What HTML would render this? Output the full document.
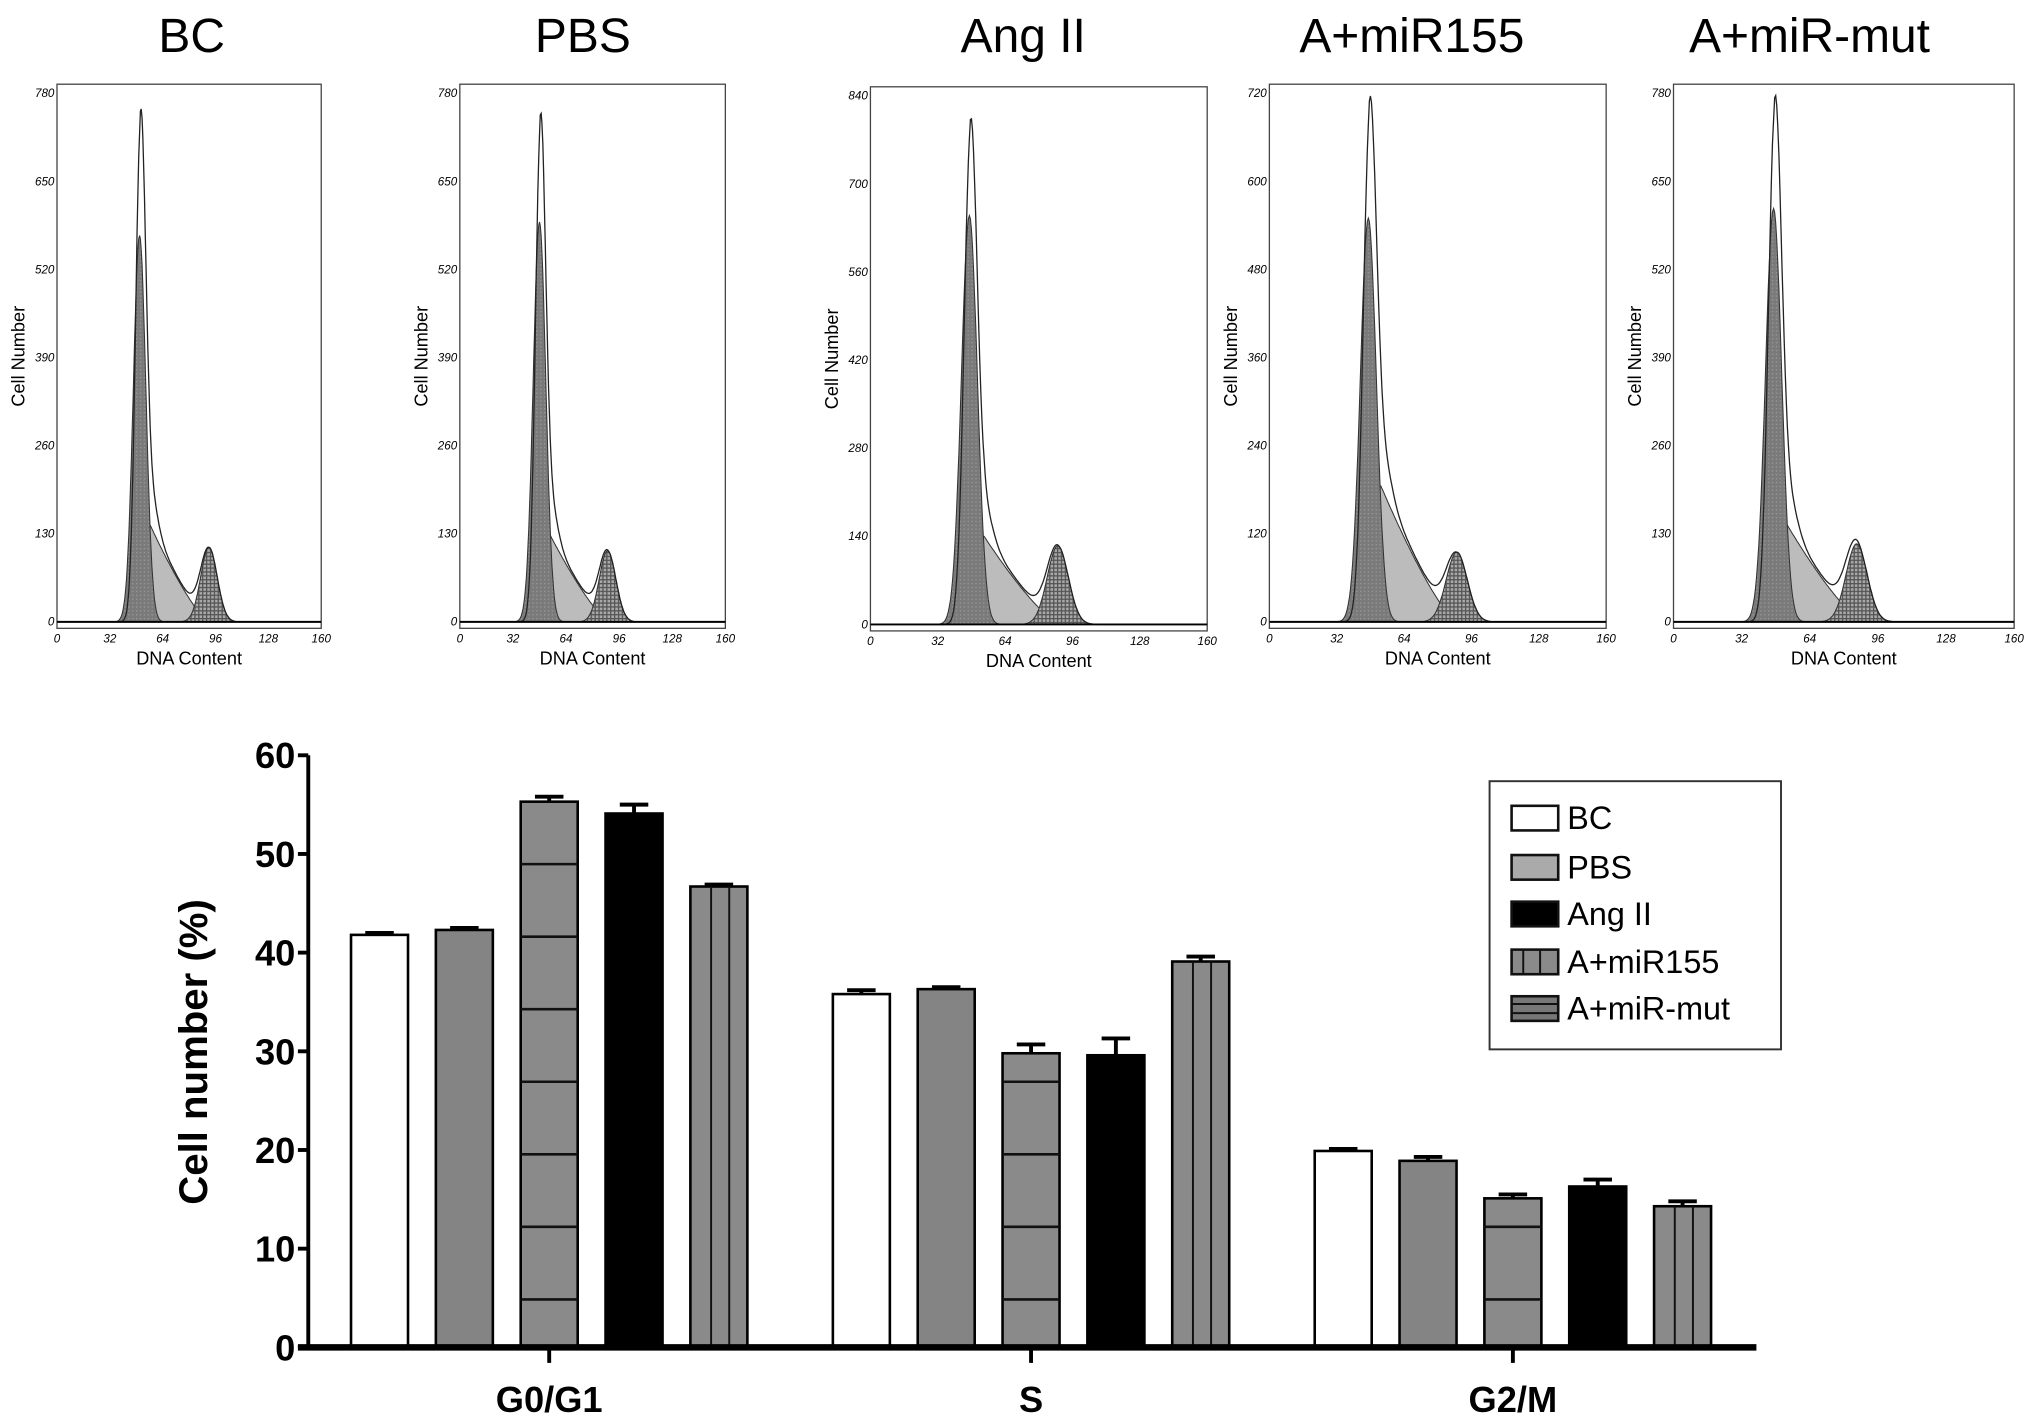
<!DOCTYPE html>
<html><head><meta charset="utf-8">
<style>
html,body{margin:0;padding:0;background:#fff;}
svg{display:block;}
text{font-family:"Liberation Sans",Arial,sans-serif;}
</style></head>
<body>
<svg id="fig" width="2031" height="1416" viewBox="0 0 1568 1093" preserveAspectRatio="none" xmlns="http://www.w3.org/2000/svg">
<defs>
<pattern id="dots" width="3" height="3" patternUnits="userSpaceOnUse"><rect width="3" height="3" fill="#7a7a7a"/><rect width="1" height="1" fill="#999"/></pattern>
<pattern id="cross" width="3" height="3" patternUnits="userSpaceOnUse"><rect width="3" height="3" fill="#aaa"/><rect width="3" height="1" fill="#555"/><rect width="1" height="3" fill="#555"/></pattern>
</defs>
<g id="hists"></g>
<g id="bars"></g>
</svg>
<script>
// ---- histogram data ----
const panelTitles = ["BC","PBS","Ang II","A+miR155","A+miR-mut"];
const panelYMax = [780,780,840,720,780];
const g1Center = [50,48,47,47,47];
const g1Height = [570,590,650,550,610];
const totalPeak = [750,745,800,705,770];
const sCenter = [56,54,54,53,53];
const sHeight = [145,130,140,185,145];
const g2Center = [92,89,89,89,86];
const g2Height = [110,105,125,95,115];
const xTicks = [0,32,64,96,128,160];

// ---- bar chart data ----
const categories = ["G0/G1","S","G2/M"];
const seriesNames = ["BC","PBS","Ang II","A+miR155","A+miR-mut"];
const valBC = [41.8,35.8,19.9];
const valPBS = [42.3,36.3,18.9];
const valAng = [54.1,29.6,16.3];
const valMiR155 = [46.7,39.1,14.3];
const valMiRmut = [55.3,29.8,15.1];
const errBC = [0.2,0.4,0.2];
const errPBS = [0.2,0.2,0.4];
const errAng = [0.9,1.7,0.7];
const errMiR155 = [0.2,0.5,0.5];
const errMiRmut = [0.5,0.9,0.4];
const yTicks = [0,10,20,30,40,50,60];

const NS="http://www.w3.org/2000/svg";
function el(tag,attrs,parent,txt){const e=document.createElementNS(NS,tag);for(const k in attrs)e.setAttribute(k,attrs[k]);if(txt!==undefined)e.textContent=txt;parent.appendChild(e);return e;}

// ---- histograms ----
const frames=[[44,65,248,485],[355,65,560,485],[672,67,932,487],[980,65,1240,485],[1292,65,1555,485]];
const titleX=[148,450,790,1090,1397];
const H=document.getElementById('hists');
function gauss(x,c,s){const z=(x-c)/s;return Math.exp(-z*z/2);}
for(let p=0;p<5;p++){
  const [x0,y0,x1,y1]=frames[p];
  const g=el('g',{},H);
  
  
  const t=el('text',{x:titleX[p],y:40,'font-size':37,'text-anchor':'middle'},g,panelTitles[p]);
  
  
  const yb=y1-5, yTopH=y0+7;
  const sx=v=>x0+(v/160)*(x1-x0);
  const sy=v=>yb-(v/panelYMax[p])*(yb-yTopH);
  const fG1=x=>g1Height[p]*gauss(x,g1Center[p],3.8);
  const fS=x=>{const c=sCenter[p];if(x<c)return sHeight[p]*gauss(x,c,4.5);return sHeight[p]*Math.pow(Math.max(0,1-(x-c)/36),1.3);};
  const fG2=x=>g2Height[p]*gauss(x,g2Center[p],5);
  const tail=x=>(x>g1Center[p]?45*gauss(x,g1Center[p]+7,4):0);
  const c1=g1Center[p]+0.5;
  const amp=totalPeak[p]-fS(c1)-tail(c1);
  const fTot=x=>amp*gauss(x,c1,3.0)+fS(x)*1.05+fG2(x)+tail(x);
  function area(f,fill,name){let d='M'+sx(0)+','+sy(0);for(let x=0;x<=160;x+=0.5)d+=' L'+sx(x).toFixed(1)+','+sy(f(x)).toFixed(1);d+=' L'+sx(160)+','+sy(0)+'Z';
    const a=el('path',{d:d,fill:fill,stroke:'#333','stroke-width':0.8},g);
    
    }
  area(fS,'#bcbcbc','s-phase-area');
  area(fG2,'url(#cross)','g2-phase-area');
  area(fG1,'url(#dots)','g1-phase-area');
  let d='';for(let x=0;x<=160;x+=0.5)d+=(x?' L':'M')+sx(x).toFixed(1)+','+sy(fTot(x)).toFixed(1);
  const ln=el('path',{d:d,fill:'none',stroke:'#222','stroke-width':1},g);
  
  
  const fr=el('rect',{x:x0,y:y0,width:x1-x0,height:y1-y0,fill:'none',stroke:'#444','stroke-width':1},g);
  
  
  el('line',{x1:x0,y1:yb,x2:x1,y2:yb,stroke:'#000','stroke-width':1.5},g);
  for(let i=0;i<=6;i++){const v=panelYMax[p]*i/6;
    const tl=el('text',{x:x0-2,y:sy(v)+3,'font-size':9,'font-style':'italic','text-anchor':'end'},g,String(Math.round(v)));
    
    }
  xTicks.forEach(v=>{const tl=el('text',{x:sx(v),y:y1+11,'font-size':9,'font-style':'italic','text-anchor':'middle'},g,String(v));
    
    });
  const xt=el('text',{x:(x0+x1)/2,y:y1+28,'font-size':14,'text-anchor':'middle'},g,'DNA Content');
  
  
  const yt2=el('text',{x:0,y:0,'font-size':14,'text-anchor':'middle',transform:'translate('+(x0-25)+','+((y0+y1)/2)+') rotate(-90)'},g,'Cell Number');
  
  
}

// ---- bar chart ----
const B=document.getElementById('bars');
const yZero=1040, yTop=583;
const yS=v=>yZero-v*(yZero-yTop)/60;
const groupLeft=[271,643,1015], stride=65.5, bw=44;
const vals=[valBC,valPBS,valAng,valMiR155,valMiRmut];
const errs=[errBC,errPBS,errAng,errMiR155,errMiRmut];
const order=[0,1,4,2,3];
const fills=['#fff','#848484','#8a8a8a','#000','#8a8a8a'];
order.forEach((si,pos)=>{
  for(let c=0;c<3;c++){
    const v=vals[si][c], er=errs[si][c];
    const x=groupLeft[c]+pos*stride, y=yS(v);
    const r=el('rect',{x:x,y:y,width:bw,height:yZero-y,fill:fills[pos],stroke:'#000','stroke-width':2},B);
    
    
    if(pos===2){for(let ly=yZero-37;ly>y+4;ly-=56)el('line',{x1:x,y1:ly,x2:x+bw,y2:ly,stroke:'#111','stroke-width':2},B);}
    if(pos===4){[16,30].forEach(o=>el('line',{x1:x+o,y1:y,x2:x+o,y2:yZero,stroke:'#111','stroke-width':1.5},B));}
    const ye=yS(v+er);
    const eb=el('path',{d:'M'+(x+bw/2)+','+y+' V'+ye+' M'+(x+bw/2-11)+','+ye+' H'+(x+bw/2+11),stroke:'#000','stroke-width':3,fill:'none'},B);
    
    
  }
});
const ya=el('line',{x1:238,y1:yTop,x2:238,y2:yZero+2,stroke:'#000','stroke-width':3},B);


const xa=el('line',{x1:230,y1:yZero,x2:1356,y2:yZero,stroke:'#000','stroke-width':5},B);


yTicks.forEach(v=>{
  el('line',{x1:230,y1:yS(v),x2:238,y2:yS(v),stroke:'#000','stroke-width':3},B);
  const t=el('text',{x:228,y:yS(v)+10,'font-size':28,'font-weight':'bold','text-anchor':'end'},B,String(v));
  
  
});
categories.forEach((c,i)=>{
  const cx=groupLeft[i]+2*stride+bw/2;
  el('line',{x1:cx,y1:yZero,x2:cx,y2:yZero+12,stroke:'#000','stroke-width':3},B);
  const t=el('text',{x:cx,y:1090,'font-size':28,'font-weight':'bold','text-anchor':'middle'},B,c);
  
  
});
const yTitle=el('text',{x:0,y:0,'font-size':31,'font-weight':'bold','text-anchor':'middle',transform:'translate(160,812) rotate(-90)'},B,'Cell number (%)');



// legend
const L=el('g',{},B);


el('rect',{x:1150,y:603,width:225,height:207,fill:'#fff',stroke:'#333','stroke-width':1.5},L);
const legFill=['#fff','#aaa','#000','#8a8a8a','#777'];
const legY=[631,669,705,742,778];
seriesNames.forEach((n,i)=>{
  const g=el('g',{},L);
  
  
  el('rect',{x:1167,y:legY[i]-9,width:36,height:19,fill:legFill[i],stroke:'#111','stroke-width':2},g);
  if(i===3){[1176,1189].forEach(x=>el('line',{x1:x,y1:legY[i]-9,x2:x,y2:legY[i]+10,stroke:'#111','stroke-width':1.5},g));}
  if(i===4){[legY[i]-3,legY[i]+4].forEach(y=>el('line',{x1:1167,y1:y,x2:1203,y2:y,stroke:'#111','stroke-width':1.5},g));}
  el('text',{x:1210,y:legY[i]+9,'font-size':25},g,n);
});
</script>
</body></html>
